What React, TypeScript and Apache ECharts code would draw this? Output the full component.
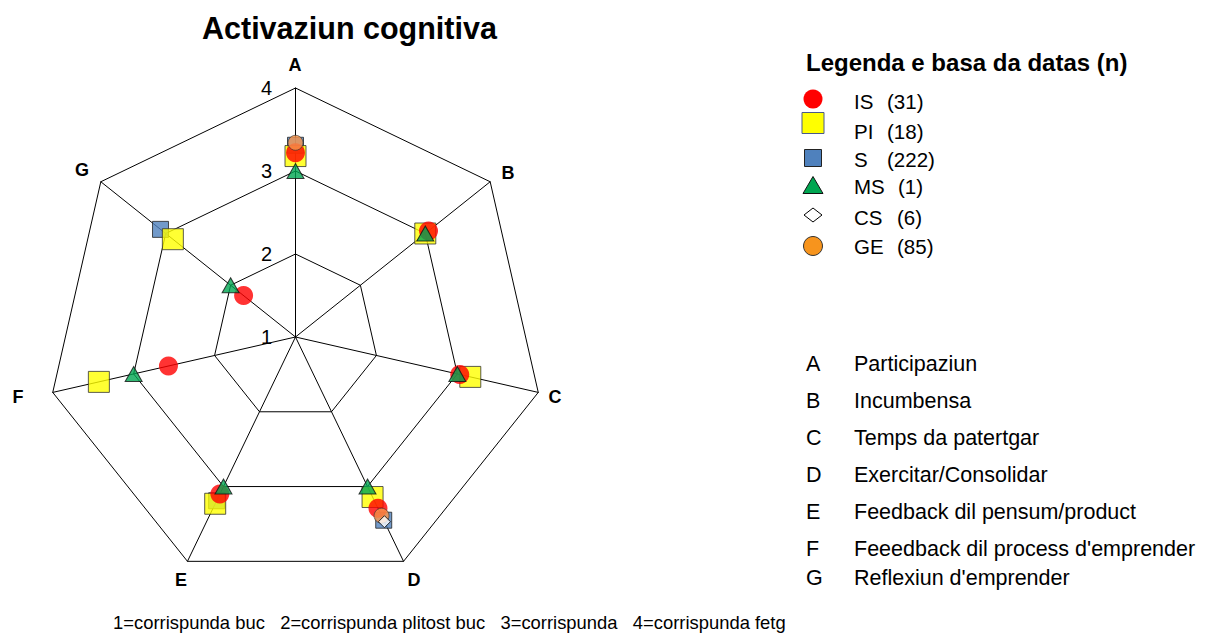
import React, { useEffect, useRef } from "react";
import * as echarts from "echarts";

const FONT = "'Liberation Sans', Arial, Helvetica, sans-serif";

const axisKeys = ["A", "B", "C", "D", "E", "F", "G"];
const axisDescriptions = [
  "Participaziun",
  "Incumbensa",
  "Temps da patertgar",
  "Exercitar/Consolidar",
  "Feedback dil pensum/product",
  "Feeedback dil process d'emprender",
  "Reflexiun d'emprender",
];
const tickValues = [1, 2, 3, 4];
const scaleNote =
  "1=corrispunda buc   2=corrispunda plitost buc   3=corrispunda   4=corrispunda fetg";

const seriesNames = ["IS", "PI", "S", "MS", "CS", "GE"];
const seriesCounts = [31, 18, 222, 1, 6, 85];

// values per axis A..G ('-' = not visible in the chart)
const valuesIS = [3.22, 3.05, 3.03, 3.29, 3.1, 2.57, 1.8];
const valuesPI = [3.18, 3.0, 3.16, 3.14, 3.23, 3.43, 2.89];
const valuesS = [3.31, "-", "-", 3.45, 3.19, "-", 3.08];
const valuesMS = [3, 3, 3, 3, 3, 3, 2];
const valuesCS = ["-", "-", "-", 3.47, "-", "-", "-"];
const valuesGE = [3.34, "-", "-", 3.39, "-", "-", "-"];

const CX = 295.5;
const CY = 337;
const R = 249;

export default function App() {
  const ref = useRef<HTMLDivElement>(null);
  useEffect(() => {
    if (!ref.current) return;
    const chart = echarts.init(ref.current, undefined, { renderer: "svg" });

    const styles: Record<string, any> = {
      IS: { symbol: "circle", symbolSize: 19, itemStyle: { color: "#FF0000", borderWidth: 0 } },
      PI: { symbol: "rect", symbolSize: 21, itemStyle: { color: "#FFFF00", borderColor: "#333", borderWidth: 1 } },
      S: { symbol: "rect", symbolSize: 16, itemStyle: { color: "#4F81BD", borderColor: "#222", borderWidth: 1 } },
      MS: { symbol: "triangle", symbolSize: [17, 15], itemStyle: { color: "#00A651", borderColor: "#111", borderWidth: 1 } },
      CS: { symbol: "diamond", symbolSize: [12, 12], itemStyle: { color: "#FFFFFF", borderColor: "#000", borderWidth: 1 } },
      GE: { symbol: "circle", symbolSize: 15, itemStyle: { color: "#F7944A", borderColor: "#333", borderWidth: 0.8 } },
    };
    const valueMap: Record<string, any[]> = {
      IS: valuesIS, PI: valuesPI, S: valuesS, MS: valuesMS, CS: valuesCS, GE: valuesGE,
    };
    const drawOrder = ["S", "PI", "IS", "GE", "CS", "MS"];

    const series = drawOrder.map((name) => ({
      type: "scatter",
      name,
      coordinateSystem: "polar",
      symbol: styles[name].symbol,
      symbolSize: styles[name].symbolSize,
      itemStyle: styles[name].itemStyle,
      silent: true,
      data: valueMap[name]
        .map((v, i) => [v, axisKeys[i]])
        .filter((d) => d[0] !== "-"),
    }));

    const graphics: any[] = [];
    // axis letters around the web
    const namePos: [number, number][] = [
      [295, 65], [508, 173], [555, 397], [414, 580], [181, 580], [18, 397], [82, 170],
    ];
    axisKeys.forEach((k, i) => {
      graphics.push({
        type: "text", x: namePos[i][0], y: namePos[i][1],
        style: { text: k, font: `bold 18px ${FONT}`, fill: "#000", align: "center", verticalAlign: "middle" },
      });
    });
    tickValues.forEach((v) => {
      graphics.push({
        type: "text",
        x: 272,
        y: CY - ((v - 1) / 3) * R,
        style: { text: String(v), font: `20px ${FONT}`, fill: "#000", align: "right", verticalAlign: "middle" },
      });
    });
    graphics.push({
      type: "text",
      x: 806,
      y: 62,
      style: { text: "Legenda e basa da datas (n)", font: `bold 24px ${FONT}`, fill: "#000", verticalAlign: "middle" },
    });
    const legendY = [101, 131, 159, 186, 217, 246];
    const symY = [99, 123, 158, 185, 215, 246];
    const countX = [887, 887, 887, 898, 897, 897];
    const sx = 813;
    seriesNames.forEach((n, i) => {
      const y = symY[i];
      if (n === "IS") graphics.push({ type: "circle", shape: { cx: sx, cy: y, r: 9.5 }, style: { fill: "#FF0000" } });
      if (n === "PI") graphics.push({ type: "rect", shape: { x: sx - 11, y: y - 10.5, width: 22, height: 21 }, style: { fill: "#FFFF00", stroke: "#4a5a8a", lineWidth: 1 } });
      if (n === "S") graphics.push({ type: "rect", shape: { x: sx - 8.5, y: y - 8.5, width: 17, height: 17 }, style: { fill: "#4F81BD", stroke: "#222", lineWidth: 1 } });
      if (n === "MS") graphics.push({ type: "polygon", shape: { points: [[sx, y - 8.5], [sx + 10, y + 8.5], [sx - 10, y + 8.5]] }, style: { fill: "#00A651", stroke: "#111", lineWidth: 1 } });
      if (n === "CS") graphics.push({ type: "polygon", shape: { points: [[sx, y - 7], [sx + 9, y], [sx, y + 7], [sx - 9, y]] }, style: { fill: "#FFFFFF", stroke: "#000", lineWidth: 1 } });
      if (n === "GE") graphics.push({ type: "circle", shape: { cx: sx, cy: y, r: 9.5 }, style: { fill: "#F7941D", stroke: "#333", lineWidth: 1 } });
      graphics.push({
        type: "text", x: 854, y: legendY[i],
        style: { text: n, font: `20.5px ${FONT}`, fill: "#000", verticalAlign: "middle" },
      });
      graphics.push({
        type: "text", x: countX[i], y: legendY[i],
        style: { text: `(${seriesCounts[i]})`, font: `20.5px ${FONT}`, fill: "#000", verticalAlign: "middle" },
      });
    });
    const keyY = [364, 401, 438, 475, 512, 549, 578];
    axisKeys.forEach((k, i) => {
      graphics.push({
        type: "text", x: 806, y: keyY[i],
        style: { text: k, font: `21.5px ${FONT}`, fill: "#000", verticalAlign: "middle" },
      });
      graphics.push({
        type: "text", x: 854, y: keyY[i],
        style: { text: axisDescriptions[i], font: `21.5px ${FONT}`, fill: "#000", verticalAlign: "middle" },
      });
    });
    graphics.push({
      type: "text", x: 113, y: 622,
      style: { text: scaleNote, font: `18.4px ${FONT}`, fill: "#000", verticalAlign: "middle" },
    });

    chart.setOption({
      animation: false,
      backgroundColor: "#ffffff",
      title: {
        text: "Activaziun cognitiva",
        left: 197,
        top: 7,
        textStyle: { fontFamily: FONT, fontWeight: "bold", fontSize: 30.5, color: "#000" },
      },
      radar: {
        center: [CX, CY],
        radius: R,
        startAngle: 90,
        splitNumber: 3,
        shape: "polygon",
        indicator: [axisKeys[0], ...axisKeys.slice(1).reverse()].map((k) => ({ name: k, min: 1, max: 4 })),
        axisName: { show: false },
        splitLine: { lineStyle: { color: "#000", width: 1 } },
        splitArea: { show: false },
        axisLine: { lineStyle: { color: "#000", width: 1 } },
        axisTick: { show: false },
        axisLabel: { show: false },
        silent: true,
      },
      polar: { center: [CX, CY], radius: R },
      angleAxis: {
        type: "category",
        data: axisKeys,
        startAngle: 90 + 180 / axisKeys.length,
        clockwise: true,
        boundaryGap: true,
        axisLine: { show: false },
        axisTick: { show: false },
        axisLabel: { show: false },
        splitLine: { show: false },
      },
      radiusAxis: {
        type: "value",
        min: 1,
        max: 4,
        axisLine: { show: false },
        axisTick: { show: false },
        axisLabel: { show: false },
        splitLine: { show: false },
      },
      series,
      graphic: graphics,
    });
    return () => chart.dispose();
  }, []);
  return (
    <div
      ref={ref}
      style={{ position: "absolute", left: 0, top: 0, width: 1205, height: 635, background: "#fff" }}
    />
  );
}
